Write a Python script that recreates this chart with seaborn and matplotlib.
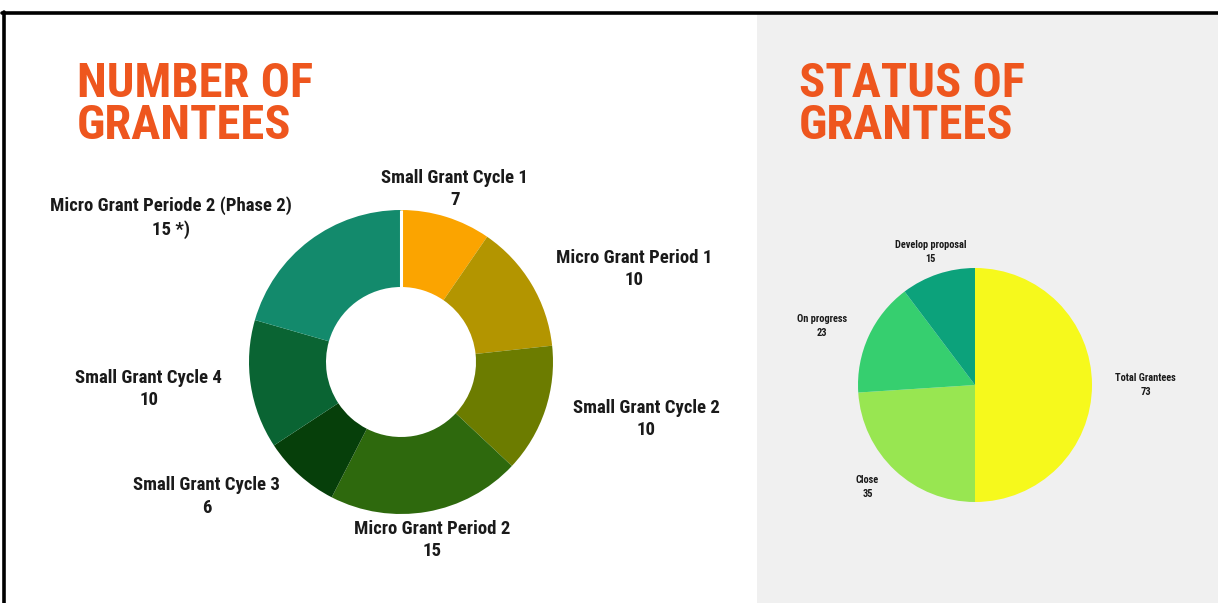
import numpy as np
import matplotlib
matplotlib.use("Agg")
import matplotlib.pyplot as plt
import seaborn as sns
from matplotlib.lines import Line2D
from matplotlib.patches import Rectangle

# ---------------- data ----------------
grant_labels = ["Small Grant Cycle 1", "Micro Grant Period 1", "Small Grant Cycle 2",
                "Micro Grant Period 2", "Small Grant Cycle 3", "Small Grant Cycle 4",
                "Micro Grant Periode 2 (Phase 2)"]
grant_values = [7, 10, 10, 15, 6, 10, 15]
grant_value_text = ["7", "10", "10", "15", "6", "10", "15 *)"]
grant_colors = ["#FBA400", "#B39500", "#6C7C00", "#2E690D", "#063F0A", "#0A6433", "#138A6C"]

status_labels = ["Total Grantees", "Close", "On progress", "Develop proposal"]
status_values = [73, 35, 23, 15]
status_colors = ["#F6F91C", "#98E651", "#36CF6F", "#0CA27B"]

title_left = "NUMBER OF\nGRANTEES"
title_right = "STATUS OF\nGRANTEES"

# ---------------- style ----------------
sns.set_theme(style="white")
COND = ["Roboto Condensed", "IBM Plex Sans Condensed", "DejaVu Sans"]
plt.rcParams["font.family"] = COND

W, H = 1218, 603
fig = plt.figure(figsize=(W / 100, H / 100), dpi=100)
fig.patch.set_facecolor("white")


def fx(x):
    return x / W


def fy(y):
    return 1 - y / H


# right panel background
fig.add_artist(Rectangle((fx(757), 0), 1 - fx(757), fy(14), transform=fig.transFigure,
                         facecolor="#F0F0F0", edgecolor="none", zorder=0))
# black frame (top & left)
fig.add_artist(Line2D([fx(2), 1], [fy(12.5), fy(12.5)], transform=fig.transFigure,
                      color="black", lw=2.6, zorder=5))
fig.add_artist(Line2D([fx(3.5), fx(3.5)], [0, fy(12)], transform=fig.transFigure,
                      color="black", lw=2.6, zorder=5))

title_kw = dict(color="#EE561E", fontsize=35, fontweight="black", va="top", ha="left",
                linespacing=0.88, family=COND)
fig.text(fx(77), fy(61), title_left, **title_kw)
fig.text(fx(799), fy(61), title_right, **title_kw)


def make_axes(cx, cy, R, half):
    ax = fig.add_axes([fx(cx - half), fy(cy + half), half * 2 / W, half * 2 / H])
    ax.axis("off")
    ax.patch.set_alpha(0)
    return ax


def fix_limits(ax, R, half):
    lim = half / R
    ax.set_xlim(-lim, lim)
    ax.set_ylim(-lim, lim)
    ax.set_aspect("equal")


def place_labels(ax, wedges, names, texts, dist, fs, ls, thr):
    for w, n, t in zip(wedges, names, texts):
        ang = np.deg2rad((w.theta1 + w.theta2) / 2)
        c, s = np.cos(ang), np.sin(ang)
        ha = "center" if abs(c) < thr else ("left" if c > 0 else "right")
        ax.text(dist * c, dist * s, f"{n}\n{t}", ha=ha, va="center", multialignment="center",
                fontsize=fs, fontweight="bold", color="#1A1A1A", linespacing=ls, clip_on=False,
                family=COND)


# ---------------- donut ----------------
R1, r1_in, half1 = 152, 75, 200
ax1 = make_axes(401, 362, R1, half1)
w1, _ = ax1.pie(grant_values, colors=grant_colors, startangle=90, counterclock=False,
                radius=1, wedgeprops=dict(width=1 - r1_in / R1, edgecolor="none"))
fix_limits(ax1, R1, half1)
ax1.plot([0, 0], [r1_in / R1, 1.0], color="white", lw=2.2, solid_capstyle="butt")
place_labels(ax1, w1, grant_labels, grant_value_text, 1.19, 13.5, 1.3, 0.32)

# ---------------- pie ----------------
R2, half2 = 117, 150
ax2 = make_axes(975, 385, R2, half2)
w2, _ = ax2.pie(status_values, colors=status_colors, startangle=90, counterclock=False,
                radius=1, wedgeprops=dict(edgecolor="none"))
fix_limits(ax2, R2, half2)
place_labels(ax2, w2, status_labels, [str(v) for v in status_values], 1.2, 7.5, 1.5, 0.35)

fig.savefig("out.png", dpi=100, facecolor=fig.get_facecolor())
